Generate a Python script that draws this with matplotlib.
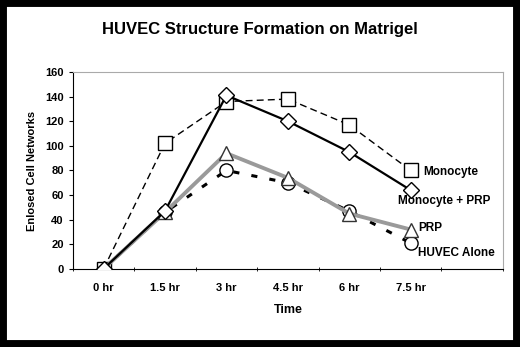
import matplotlib
matplotlib.use("Agg")
import matplotlib.pyplot as plt
from matplotlib.patches import Rectangle

plt.rcParams['font.family'] = ['Liberation Sans', 'DejaVu Sans']
plt.rcParams['font.weight'] = 'bold'

# 数据
times = ["0 hr", "1.5 hr", "3 hr", "4.5 hr", "6 hr", "7.5 hr"]
monocyte = [0, 102, 136, 138, 117, 80]
mono_prp = [0, 47, 141, 120, 95, 64]
prp = [0, 46, 94, 74, 45, 32]
huvec = [0, 46, 80, 70, 47, 21]

x = list(range(len(times)))

fig = plt.figure(figsize=(5.2, 3.47), dpi=100)
ax = fig.add_axes([0.140, 0.225, 0.827, 0.5675])

ax.plot(x, monocyte, color="black", lw=1.0, ls=(0, (5, 3)), marker="s",
        ms=9.5, mfc="white", mec="black", mew=1.0, zorder=3)
ax.plot(x, mono_prp, color="black", lw=1.6, ls="-", marker="D",
        ms=8.5, mfc="white", mec="black", mew=1.0, zorder=4)
ax.plot(x, prp, color="#9a9a9a", lw=2.8, ls="-", marker="^",
        ms=10, mfc="white", mec="#333333", mew=1.0, zorder=3)
ax.plot(x, huvec, color="black", lw=2.2, ls=(0, (2, 4)), marker="o",
        ms=9.5, mfc="white", mec="black", mew=1.0, zorder=2)

# 右侧标注
ax.text(5.2, 79, "Monocyte", fontsize=8.5, fontweight="bold", va="center", ha="left")
ax.text(4.8, 55, "Monocyte + PRP", fontsize=8.5, fontweight="bold", va="center", ha="left")
ax.text(5.12, 33, "PRP", fontsize=8.5, fontweight="bold", va="center", ha="left")
ax.text(5.12, 13, "HUVEC Alone", fontsize=8.5, fontweight="bold", va="center", ha="left")

ax.set_xlim(-0.5, 6.5)
ax.set_ylim(0, 160)
ax.set_yticks(range(0, 161, 20))
ax.set_xticks(x)
ax.set_xticklabels(times)
ax.set_xticks([i - 0.5 for i in range(8)], minor=True)
ax.tick_params(axis="x", which="major", length=0, pad=10, labelsize=8)
ax.tick_params(axis="x", which="minor", length=3, direction="inout")
ax.tick_params(axis="y", length=3, direction="out", labelsize=8)
for lab in ax.get_xticklabels() + ax.get_yticklabels():
    lab.set_fontweight("bold")

ax.spines["top"].set_color("#aaaaaa")
ax.spines["right"].set_color("#aaaaaa")
ax.spines["left"].set_color("black")
ax.spines["bottom"].set_color("black")

ax.set_xlabel("Time", fontsize=9, fontweight="bold", labelpad=8)
ax.set_ylabel("Enlosed Cell Networks", fontsize=8, fontweight="bold", labelpad=6)
fig.text(0.5, 0.915, "HUVEC Structure Formation on Matrigel", ha="center", va="center",
         fontsize=12, fontweight="bold")

# 黑色边框
fig.patches.append(Rectangle((0, 0), 1, 1, transform=fig.transFigure, fill=False,
                             edgecolor="black", lw=10, zorder=10))

fig.savefig("out.png", dpi=100)
